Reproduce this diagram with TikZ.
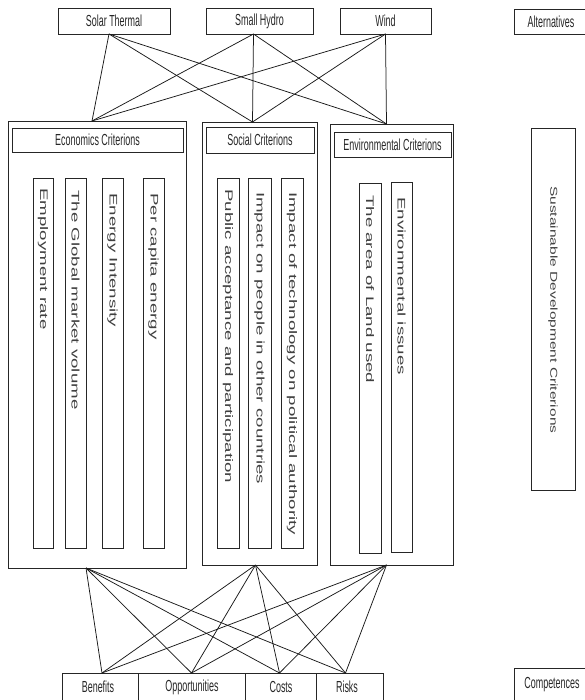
\documentclass[tikz,border=0pt]{standalone}
\usepackage{fontspec}
\setmainfont{Liberation Sans}
\newfontfamily\narrowf[FakeStretch=0.56]{Liberation Sans}
\newfontfamily\widef[FakeStretch=1.7]{Liberation Sans}
\newfontfamily\sdcf[FakeStretch=1.55]{Liberation Sans}
\tikzset{
  box/.style={draw=black!85, line width=0.8pt, rectangle, inner sep=0pt, outer sep=0pt, anchor=north west},
  ttl/.style={font=\narrowf\fontsize{16}{16}\selectfont, text=black!85},
  vtxt/.style={font=\widef\fontsize{11}{11}\selectfont, text=black!75, rotate=-90, anchor=west, inner sep=0pt},
  link/.style={draw=black!90, line width=0.75pt}
}
\begin{document}
\begin{tikzpicture}[x=1pt,y=-1pt]
\useasboundingbox (0,0) rectangle (585,700);
\clip (0,0) rectangle (585,700);
% alternatives
\node[box, minimum width=112pt, minimum height=26pt] (solar) at (58,8) {};
\node[ttl] (solarL) at (solar.center) {Solar Thermal};
\node[box, minimum width=107pt, minimum height=26pt] (hydro) at (206,8) {};
\node[ttl] (hydroL) at (hydro.center) {Small Hydro};
\node[box, minimum width=91pt, minimum height=26pt] (wind) at (340,8) {};
\node[ttl] (windL) at (wind.center) {Wind};
\node[box, minimum width=80pt, minimum height=25pt] (alt) at (514,9) {};
\node[ttl] (altL) at (551,21.5) {Alternatives};
% economics
\node[box, minimum width=178pt, minimum height=447pt] (econ) at (8,121) {};
\node[box, minimum width=171pt, minimum height=24pt] (econT) at (12,128) {};
\node[ttl] (econL) at (econT.center) {Economics Criterions};
\node[box, minimum width=20pt, minimum height=370pt] (e1) at (33,178) {};
\node[box, minimum width=21pt, minimum height=370pt] (e2) at (65,178) {};
\node[box, minimum width=21pt, minimum height=370pt] (e3) at (102,178) {};
\node[box, minimum width=21pt, minimum height=370pt] (e4) at (143,178) {};
\node[vtxt] (e1L) at (43,188) {Employment rate};
\node[vtxt] (e2L) at (75.5,190) {The Global market volume};
\node[vtxt] (e3L) at (112.5,193) {Energy Intensity};
\node[vtxt] (e4L) at (153.5,193) {Per capita energy};
% social
\node[box, minimum width=115pt, minimum height=443pt] (social) at (202,122) {};
\node[box, minimum width=108pt, minimum height=26pt] (socialT) at (206,127) {};
\node[ttl] (socialL) at (socialT.center) {Social Criterions};
\node[box, minimum width=22pt, minimum height=370pt] (s1) at (217,178) {};
\node[box, minimum width=23pt, minimum height=370pt] (s2) at (248,178) {};
\node[box, minimum width=22pt, minimum height=370pt] (s3) at (281,178) {};
\node[vtxt] (s1L) at (228,189) {Public acceptance and participation};
\node[vtxt] (s2L) at (259.5,192) {Impact on people in other countries};
\node[vtxt] (s3L) at (292,192) {Impact of technology on political authority};
% environmental
\node[box, minimum width=123pt, minimum height=441pt] (env) at (330,124) {};
\node[box, minimum width=117pt, minimum height=25pt] (envT) at (334,132) {};
\node[ttl] (envL) at (envT.center) {Environmental Criterions};
\node[box, minimum width=22pt, minimum height=370pt] (n1) at (359,183) {};
\node[box, minimum width=21pt, minimum height=370pt] (n2) at (391,182) {};
\node[vtxt] (n1L) at (370,195) {The area of Land used};
\node[vtxt] (n2L) at (401.5,197) {Environmental issues};
% sustainable development
\node[box, minimum width=44pt, minimum height=362pt] (sdc) at (531,128) {};
\node[vtxt, font=\sdcf\fontsize{10}{10}\selectfont] (sdcL) at (553,186) {Sustainable Development Criterions};
% bottom row
\node[box, minimum width=76pt, minimum height=35pt] (ben) at (62,673) {};
\node[box, minimum width=107pt, minimum height=35pt] (opp) at (138,673) {};
\node[box, minimum width=71pt, minimum height=35pt] (cost) at (245,673) {};
\node[box, minimum width=67pt, minimum height=35pt] (risk) at (316,673) {};
\node[ttl] (benL) at (98,687) {Benefits};
\node[ttl] (oppL) at (192,687) {Opportunities};
\node[ttl] (costL) at (281,687) {Costs};
\node[ttl] (riskL) at (347,687) {Risks};
\node[box, minimum width=80pt, minimum height=40pt] (comp) at (514,668) {};
\node[ttl] (compL) at (552,685) {Competences};
% anchor coordinates
\coordinate (pS) at ([xshift=-5pt]solar.south);
\coordinate (pH) at ([xshift=-6pt]hydro.south);
\coordinate (pW) at (wind.south);
\coordinate (cEt) at ([xshift=-5pt]econ.north);
\coordinate (cSt) at ([xshift=-7pt]social.north);
\coordinate (cNt) at ([xshift=-5pt]env.north);
\coordinate (cEb) at ([xshift=-11pt]econ.south);
\coordinate (cSb) at ([xshift=-4pt]social.south);
\coordinate (cNb) at ([xshift=-5pt]env.south);
\coordinate (bB) at ([xshift=2pt]ben.north);
\coordinate (bO) at (opp.north);
\coordinate (bC) at ([xshift=-1pt]cost.north);
\coordinate (bR) at ([xshift=-4pt]risk.north);
% connectors
\foreach \a in {pS,pH,pW}{
  \foreach \c in {cEt,cSt,cNt}{
    \draw[link] (\a) -- (\c);
  }
}
\foreach \c in {cEb,cSb,cNb}{
  \foreach \b in {bB,bO,bC,bR}{
    \draw[link] (\c) -- (\b);
  }
}
\end{tikzpicture}
\end{document}
